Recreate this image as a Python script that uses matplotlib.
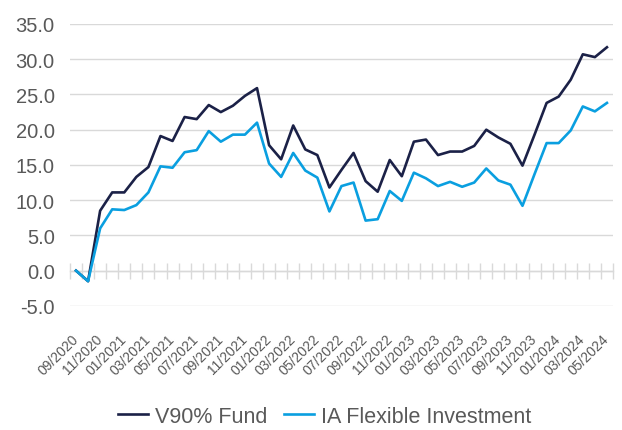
import matplotlib

matplotlib.use("Agg")
import matplotlib.pyplot as plt
import numpy as np
import pandas as pd

# monthly cumulative performance (%), 09/2020 - 05/2024
months = pd.date_range("2020-09-01", "2024-05-01", freq="MS")
v90_fund = [0.0, -1.5, 8.5, 11.1, 11.1, 13.3, 14.7, 19.1, 18.4, 21.8,
            21.5, 23.5, 22.5, 23.4, 24.8, 25.9, 17.8, 15.8, 20.6, 17.2,
            16.4, 11.8, 14.3, 16.7, 12.7, 11.2, 15.7, 13.4, 18.3, 18.6,
            16.4, 16.9, 16.9, 17.7, 20.0, 18.9, 18.0, 14.9, 19.3, 23.8,
            24.7, 27.1, 30.7, 30.3, 31.7]
ia_flexible = [0.0, -1.5, 6.0, 8.7, 8.6, 9.3, 11.1, 14.8, 14.6, 16.8,
               17.1, 19.8, 18.3, 19.3, 19.3, 21.0, 15.2, 13.3, 16.7, 14.2,
               13.2, 8.4, 12.0, 12.5, 7.1, 7.3, 11.3, 9.9, 13.9, 13.1,
               12.0, 12.6, 11.9, 12.5, 14.5, 12.8, 12.2, 9.2, 13.7, 18.1,
               18.1, 19.9, 23.3, 22.6, 23.8]
month_labels = [m.strftime("%m/%Y") for m in months]

DARK = "#1b2147"
LIGHT = "#0a9fe0"
GRID = "#d9d9d9"
TEXT = "#595959"

plt.rcParams["font.family"] = ["Liberation Sans", "DejaVu Sans"]

fig = plt.figure(figsize=(6.22, 4.31), dpi=100)
ax = fig.add_axes([0.1125, 0.288, 0.873, 0.654])

x = np.arange(len(months))
ax.plot(x, v90_fund, color=DARK, lw=1.9, label="V90% Fund", zorder=3)
ax.plot(x, ia_flexible, color=LIGHT, lw=1.9, label="IA Flexible Investment", zorder=3)

ax.set_xlim(-0.5, len(months) - 0.5)
ax.set_ylim(-5, 35)
ax.set_yticks(np.arange(-5, 36, 5))
ax.set_yticklabels([f"{v:.1f}" for v in np.arange(-5, 36, 5)])
ax.yaxis.grid(True, color=GRID, lw=1.0)
ax.set_axisbelow(True)
for s in ax.spines.values():
    s.set_visible(False)
ax.tick_params(axis="y", length=0, pad=11, labelsize=14.5, labelcolor=TEXT)

# labels every two months, below the plot area
ax.set_xticks(x[::2])
ax.set_xticklabels(month_labels[::2], rotation=45, ha="right", va="center",
                   rotation_mode="anchor", fontsize=10, color=TEXT)
ax.tick_params(axis="x", length=0, pad=22)

# category axis crossing at zero, with tick marks between categories
sec = ax.secondary_xaxis(5 / 40)
sec.spines["bottom"].set_color(GRID)
sec.spines["bottom"].set_linewidth(1.0)
sec.set_xticks(np.arange(-0.5, len(months), 1.0))
sec.set_xticklabels([])
sec.tick_params(axis="x", direction="inout", length=12, width=1.0, color=GRID)

fig.legend(*ax.get_legend_handles_labels(), loc="center",
           bbox_to_anchor=(0.522, 0.032), ncol=2, frameon=False,
           fontsize=15.5, labelcolor=TEXT, handlelength=1.4,
           handletextpad=0.3, columnspacing=0.8, borderpad=0)

fig.savefig("out.png", dpi=100)
